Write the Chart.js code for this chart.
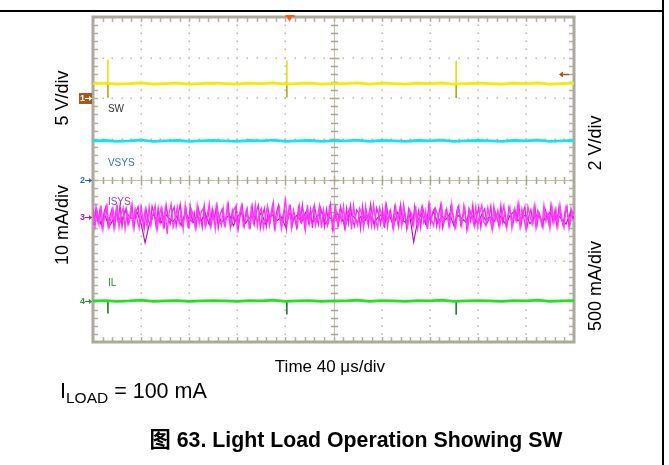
<!DOCTYPE html>
<html>
<head>
<meta charset="utf-8">
<script src="https://cdn.jsdelivr.net/npm/chart.js@4.4.1/dist/chart.umd.min.js"></script>
<style>
  html,body{margin:0;padding:0;background:#fff;}
  body{width:669px;height:465px;position:relative;overflow:hidden;font-family:"Liberation Sans",Arial,"Noto Sans CJK SC",sans-serif;color:#000;}
  #wrap{position:absolute;left:0;top:0;width:669px;height:465px;}
  .rot{position:absolute;white-space:nowrap;font-size:18px;transform:translate(-50%,-50%) rotate(-90deg);line-height:1;}
  .txt{position:absolute;white-space:nowrap;line-height:1;}
  #hline{position:absolute;left:0;top:10px;width:664px;height:2px;background:#000;}
  #vline{position:absolute;left:662px;top:0;width:2px;height:465px;background:#000;}
</style>
</head>
<body>
<div id="hline"></div>
<div id="vline"></div>
<div id="wrap"><canvas id="c"></canvas></div>
<div class="rot" style="left:62px;top:98px;">5 V/div</div>
<div class="rot" style="left:62px;top:225px;">10 mA/div</div>
<div class="rot" style="left:595px;top:143px;">2 V/div</div>
<div class="rot" style="left:595px;top:286px;">500 mA/div</div>
<div class="txt" style="left:330px;top:358px;font-size:17px;transform:translateX(-50%);">Time 40 μs/div</div>
<div class="txt" style="left:60px;top:381px;font-size:21.5px;">I<sub style="font-size:15.5px;vertical-align:-5px;">LOAD</sub> = 100 mA</div>
<div class="txt" style="left:356px;top:430px;font-size:21.3px;font-weight:bold;transform:translateX(-50%);">图 63. Light Load Operation Showing SW</div>
<script>
// ---- data (in screen divisions: x 0..10, y 0..8) ----
const timeDivs = 10;
const swLevel = [6.36,6.37,6.35,6.36,6.38,6.35,6.36,6.37,6.35,6.36,6.37,6.36,6.35,6.37,6.36,6.38,6.35,6.36,6.37,6.35,6.36,6.36,6.38,6.35,6.37,6.36,6.35,6.37,6.36,6.38,6.35,6.36,6.37,6.36,6.35,6.37,6.36,6.38,6.35,6.36,6.37];
const vsysLevel = [4.95,4.96,4.94,4.95,4.97,4.94,4.95,4.96,4.94,4.95,4.96,4.95,4.94,4.96,4.95,4.97,4.94,4.95,4.96,4.94,4.95,4.95,4.97,4.94,4.96,4.95,4.94,4.96,4.95,4.97,4.94,4.95,4.96,4.95,4.94,4.96,4.95,4.97,4.94,4.95,4.96];
const ilLevel = [1.01,1.02,1.00,1.01,1.03,1.00,1.01,1.02,1.00,1.01,1.02,1.01,1.00,1.02,1.01,1.03,1.00,1.01,1.02,1.00,1.01,1.01,1.03,1.00,1.02,1.01,1.00,1.02,1.01,1.03,1.00,1.01,1.02,1.01,1.00,1.02,1.01,1.03,1.00,1.01,1.02];
const isysLightA = [
 3.30,2.84,3.22,2.90,3.36,2.80,3.18,3.34,2.82,3.04,3.26,2.88,3.38,2.83,3.14,3.30,2.79,3.20,2.95,3.33,
 2.86,3.28,3.02,2.81,3.37,2.93,3.24,2.84,3.32,2.90,3.16,3.35,2.78,3.10,3.30,2.87,3.25,2.66,3.19,3.39,
 2.83,3.00,3.31,2.92,3.22,2.79,3.36,2.96,2.85,3.27,3.12,2.81,3.34,2.91,3.20,3.29,2.84,3.06,3.40,2.88,
 3.17,2.79,3.33,3.00,2.87,3.27,2.82,3.37,3.04,2.89,3.23,3.32,2.80,3.13,3.35,2.85,2.98,3.26,2.78,3.30,
 2.95,3.36,2.86,3.18,3.29,2.81,3.07,3.34,2.88,3.21,3.44,2.83,3.15,3.31,2.79,3.02,3.56,2.91,3.38,2.82,
 3.25,3.05,2.85,3.33,2.97,3.19,2.78,3.37,2.92,3.16,3.30,2.87,3.08,3.35,2.81,3.26,2.99,2.86,3.32,3.11,
 2.80,3.39,2.90,3.21,2.98,3.34,2.83,3.14,3.27,2.77,3.36,3.03,2.88,3.29,3.18,2.82,3.33,2.95,3.24,2.86,
 3.37,3.01,2.81,3.30,3.12,2.91,3.35,2.84,3.20,3.06,2.79,3.32,2.97,3.26,2.87,3.38,3.04,2.83,3.25,3.15,
 2.89,3.34,2.80,3.09,3.31,2.95,3.22,2.78,3.36,3.00,2.86,3.27,3.13,2.82,3.33,2.93,3.23,3.07,2.85,3.39,
 2.98,2.81,3.29,3.16,2.87,3.35,3.03,2.79,3.26,3.12,2.90,3.32,2.84,3.19,3.37,2.96,2.86,3.30,3.06,2.80,
 3.34,3.02,3.24,2.85,3.14,3.36,2.89,3.09,3.31,2.81,3.21,3.00,3.38,2.88,3.27,3.05,2.78,3.33,3.13,2.92,
 3.29,2.83,3.23,3.08,2.86,3.35,2.97,3.16,2.80,3.32,2.94,3.26,2.89,3.37,3.03,2.82,3.30,3.11,2.90,3.22,
 3.15];
const isysLightB = [
 2.88,3.31,2.95,3.26,2.82,3.19,3.35,2.86,3.10,3.28,2.80,3.23,2.97,3.36,2.84,3.15,3.30,2.89,3.05,3.38,
 2.81,3.21,3.33,2.92,3.12,2.78,3.27,3.01,2.87,3.34,3.17,2.83,3.29,2.94,3.24,2.79,3.37,3.06,2.90,3.20,
 3.32,2.85,3.14,3.39,2.88,3.02,3.26,2.80,3.35,2.96,3.18,2.84,3.30,3.09,2.82,3.36,2.93,3.22,2.86,3.28,
 3.00,3.34,2.81,3.16,3.27,2.89,3.07,3.38,2.83,3.23,2.95,3.31,2.79,3.13,3.35,2.87,3.25,3.03,2.84,3.32,
 2.91,3.19,3.37,2.80,3.10,3.29,2.86,3.24,2.98,3.33,2.82,3.17,3.36,2.92,3.05,3.28,2.78,3.21,3.34,2.88,
 3.12,2.83,3.30,3.02,3.38,2.85,3.20,2.94,3.26,2.81,3.35,3.08,2.89,3.31,3.15,2.84,3.27,2.97,3.37,2.80,
 3.22,3.04,2.87,3.33,3.11,2.82,3.29,2.93,3.36,3.00,2.85,3.25,3.18,2.79,3.34,2.96,3.21,2.88,3.39,3.06,
 2.83,3.30,3.14,2.90,3.27,2.81,3.35,3.01,3.23,2.86,3.32,3.09,2.84,3.37,2.95,3.19,2.80,3.28,3.12,2.89,
 3.34,2.99,3.24,2.82,3.31,3.07,2.87,3.36,2.92,3.20,3.29,2.85,3.13,3.38,2.81,3.03,3.26,2.90,3.33,3.16,
 2.84,3.22,3.35,2.88,3.05,3.30,2.79,3.25,2.97,3.37,2.86,3.11,3.32,2.83,3.18,3.28,2.91,3.02,3.34,2.80,
 3.23,3.08,2.87,3.36,2.94,3.21,2.82,3.31,3.15,2.89,3.27,3.00,3.39,2.85,3.17,3.33,2.81,3.10,3.26,2.93,
 3.35,2.86,3.19,3.04,2.83,3.29,3.13,2.90,3.37,2.96,3.24,2.84,3.32,3.07,2.88,3.20,3.34,2.82,3.28,3.01];
const isysDark = [
 3.05,3.18,2.90,3.12,2.84,3.00,3.15,2.95,3.22,3.10,
 3.02,3.20,2.92,2.44,2.88,3.14,3.00,2.93,3.16,3.04,
 2.96,3.11,2.87,3.19,3.03,2.94,3.13,2.98,3.17,2.89,
 3.07,3.22,2.95,3.01,3.15,2.86,3.09,3.18,2.92,3.05,
 3.12,2.97,3.20,2.90,3.06,3.14,2.99,3.08,2.84,3.16,
 3.02,3.13,2.93,3.19,3.04,2.96,3.10,3.21,2.91,3.07,
 2.98,3.15,3.03,2.88,3.17,3.09,2.95,3.12,3.00,3.18,
 2.92,3.06,3.14,2.97,3.11,2.86,3.19,3.02,2.94,3.13,
 2.46,2.99,3.16,2.90,3.05,3.20,2.93,3.10,3.01,3.15,
 2.87,3.12,3.04,2.96,3.18,3.07,2.92,3.14,3.00,3.09,
 2.95,3.17,3.03,2.89,3.11,3.21,2.98,3.06,3.13,2.91,
 3.04,3.16,2.94,3.08,3.19,2.97,3.12,3.02,2.90,3.15,
 3.06];
const spikeTimes = [0.31, 4.03, 7.55];
const swSpikeHigh = [6.95, 6.93, 6.92];
const swSpikeLow = [6.01, 6.02, 6.00];
const ilSpikeLow = [0.70, 0.68, 0.67];
const channelZero = [6.0, 4.0, 3.08, 1.0];
const channelNames = ['1','2','3','4'];
const traceNames = ['SW','VSYS','ISYS','IL'];
const triggerTime = 4.07;
const triggerLevel = 6.6;

// ---- build datasets ----
function uniform(arr){ const n = arr.length-1; return arr.map((v,i)=>({x: i*timeDivs/n, y: v})); }
function halfStep(arr){ const n = arr.length; return arr.map((v,i)=>({x: (i+0.5)*timeDivs/n, y: v})); }
function spikes(times, a, b){ const out=[]; times.forEach((t,i)=>{ out.push({x:t,y:a[i]},{x:t,y:b[i]},{x:t,y:null}); }); return out; }
const swBase = spikeTimes.map(()=>swLevel[0]);
const ilBase = spikeTimes.map(()=>ilLevel[0]);

const graticule = {
  id:'graticule',
  beforeDatasetsDraw(chart){
    const {ctx, chartArea:a, scales:{x,y}} = chart;
    ctx.save();
    ctx.fillStyle = '#bdb8a0';
    for (let i=1;i<10;i++){ if(i===5) continue; const px=Math.round(x.getPixelForValue(i));
      for (let j=1;j<40;j++){ const py=Math.round(y.getPixelForValue(j*0.2)); ctx.fillRect(px-0.5,py-0.5,1.5,1.5);} }
    for (let k=1;k<8;k++){ if(k===4) continue; const py=Math.round(y.getPixelForValue(k));
      for (let j=1;j<50;j++){ const px=Math.round(x.getPixelForValue(j*0.2)); ctx.fillRect(px-0.5,py-0.5,1.5,1.5);} }
    // center cross
    const cx = Math.round(x.getPixelForValue(5))+0.5, cy = Math.round(y.getPixelForValue(4))+0.5;
    ctx.strokeStyle='#c4c0aa'; ctx.lineWidth=1;
    ctx.beginPath(); ctx.moveTo(a.left,cy); ctx.lineTo(a.right,cy); ctx.moveTo(cx,a.top); ctx.lineTo(cx,a.bottom); ctx.stroke();
    ctx.strokeStyle='#aaa58e'; ctx.lineWidth=1.5; ctx.beginPath();
    for (let j=1;j<50;j++){ const px=Math.round(x.getPixelForValue(j*0.2))+0.5; const L=(j%5===0)?5:3.5; ctx.moveTo(px,cy-L); ctx.lineTo(px,cy+L); }
    for (let j=1;j<40;j++){ const py=Math.round(y.getPixelForValue(j*0.2))+0.5; const L=(j%5===0)?5:3.5; ctx.moveTo(cx-L,py); ctx.lineTo(cx+L,py); }
    ctx.stroke();
    // frame ticks
    ctx.strokeStyle='#b4b09c'; ctx.lineWidth=1.5; ctx.beginPath();
    for (let j=1;j<50;j++){ const px=Math.round(x.getPixelForValue(j*0.2))+0.5; ctx.moveTo(px,a.top); ctx.lineTo(px,a.top+5); ctx.moveTo(px,a.bottom-5); ctx.lineTo(px,a.bottom); }
    for (let j=1;j<40;j++){ const py=Math.round(y.getPixelForValue(j*0.2))+0.5; ctx.moveTo(a.left,py); ctx.lineTo(a.left+5,py); ctx.moveTo(a.right-5,py); ctx.lineTo(a.right,py); }
    ctx.stroke();
    // frame
    ctx.strokeStyle='#aaa99a'; ctx.lineWidth=3;
    ctx.strokeRect(a.left,a.top,a.right-a.left,a.bottom-a.top);
    ctx.restore();
  },
  afterDatasetsDraw(chart){
    const {ctx, chartArea:a, scales:{x,y}} = chart;
    ctx.save();
    const colors = ['#ffffff','#2d63c8','#a8239a','#2a9a2a'];
    ctx.font = 'bold 9px "Liberation Sans", Arial, sans-serif';
    ctx.textBaseline='middle';
    channelZero.forEach((v,i)=>{
      const py = Math.round(y.getPixelForValue(v))+0.5;
      const x0 = a.left-14;
      if(i===0){ ctx.fillStyle='#a4581c'; ctx.fillRect(x0, py-5.5, 13, 11); }
      ctx.fillStyle = colors[i]; ctx.strokeStyle = colors[i];
      ctx.textAlign='left';
      ctx.fillText(channelNames[i], x0+1, py+0.5);
      ctx.lineWidth=1; ctx.beginPath(); ctx.moveTo(x0+6,py); ctx.lineTo(a.left-1,py); ctx.stroke();
      ctx.beginPath(); ctx.moveTo(a.left-1,py); ctx.lineTo(a.left-4,py-2.5); ctx.lineTo(a.left-4,py+2.5); ctx.closePath(); ctx.fill();
    });
    // trace labels
    const labelColors = ['#333333','#3a6fd0','#a23c9c','#2a8a2a'];
    const labelLevels = [5.67, 4.34, 3.37, 1.37];
    ctx.font = '10px "Liberation Sans", Arial, sans-serif';
    ctx.textBaseline='alphabetic'; ctx.textAlign='left';
    traceNames.forEach((n,i)=>{ ctx.fillStyle=labelColors[i]; ctx.fillText(n, x.getPixelForValue(0.31), y.getPixelForValue(labelLevels[i])); });
    // trigger position marker (top)
    const tx = Math.round(x.getPixelForValue(triggerTime))+0.5;
    ctx.fillStyle='#e8641e'; ctx.fillRect(tx-4, a.top-2, 9, 2);
    ctx.beginPath(); ctx.moveTo(tx-2.5,a.top); ctx.lineTo(tx+2.5,a.top); ctx.lineTo(tx,a.top+5); ctx.closePath(); ctx.fill();
    // trigger level marker (right)
    const ty = Math.round(y.getPixelForValue(triggerLevel))+0.5;
    ctx.strokeStyle='#a4581c'; ctx.fillStyle='#a4581c'; ctx.lineWidth=1.5;
    ctx.beginPath(); ctx.moveTo(a.right-14,ty); ctx.lineTo(a.right-5,ty); ctx.stroke();
    ctx.beginPath(); ctx.moveTo(a.right-15,ty); ctx.lineTo(a.right-11,ty-3); ctx.lineTo(a.right-11,ty+3); ctx.closePath(); ctx.fill();
    ctx.restore();
  }
};

const common = {pointRadius:0, tension:0, fill:false, spanGaps:false};
new Chart(document.getElementById('c'), {
  type:'line',
  data:{ datasets:[
    {...common, data: uniform(isysLightA), borderColor:'#ff3cff', borderWidth:1.4},
    {...common, data: halfStep(isysLightB), borderColor:'#f020f0', borderWidth:1.3},
    {...common, data: uniform(isysDark), borderColor:'#b00cae', borderWidth:1.1},
    {...common, data: uniform(swLevel), borderColor:'#eeee00', borderWidth:2.8},
    {...common, data: spikes(spikeTimes, swSpikeHigh, swBase), borderColor:'#e2e200', borderWidth:1.6},
    {...common, data: spikes(spikeTimes, swBase, swSpikeLow), borderColor:'#b3aa10', borderWidth:1.6},
    {...common, data: uniform(vsysLevel), borderColor:'#12e4e8', borderWidth:2.8},
    {...common, data: uniform(ilLevel), borderColor:'#22e022', borderWidth:2.8},
    {...common, data: spikes(spikeTimes, ilBase, ilSpikeLow), borderColor:'#1f7a1f', borderWidth:1.6}
  ]},
  options:{
    responsive:true, maintainAspectRatio:false, animation:false,
    layout:{padding:{left:93, right:95, top:17, bottom:123}},
    scales:{
      x:{type:'linear', min:0, max:timeDivs, display:false},
      y:{type:'linear', min:0, max:8, display:false}
    },
    plugins:{legend:{display:false}, tooltip:{enabled:false}},
    events:[]
  },
  plugins:[graticule]
});
</script>
</body>
</html>
